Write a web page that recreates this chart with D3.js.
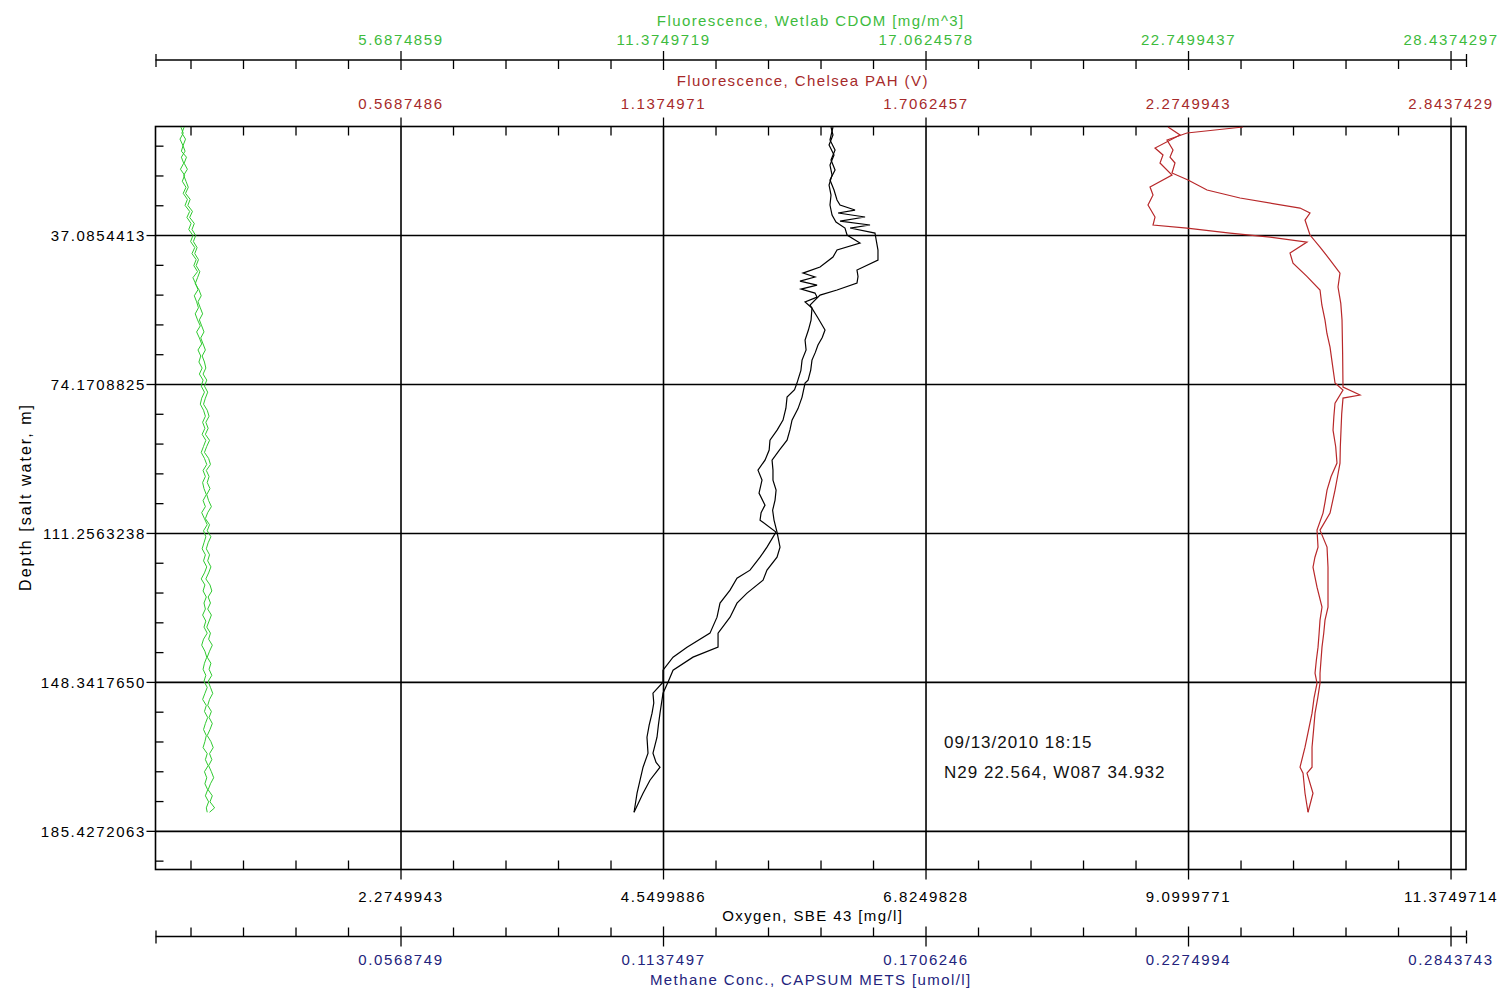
<!DOCTYPE html>
<html>
<head>
<meta charset="utf-8">
<script src="https://cdn.jsdelivr.net/npm/d3@7"></script>
<style>
  html, body { margin: 0; padding: 0; background: #fff; }
  svg { display: block; }
</style>
</head>
<body>
<svg id="chart" width="1501" height="989"></svg>
<script>
// ---------------- DATA ----------------
// Axis ranges (each horizontal axis shares the same pixel span)
const oxygenRange  = [0.1517, 11.509];     // Oxygen, SBE 43 [mg/l]
const pahRange     = [0.0379, 2.8773];     // Fluorescence, Chelsea PAH (V)
const cdomRange    = [0.3793, 28.7725];    // Fluorescence, Wetlab CDOM [mg/m^3]
const methaneRange = [0.00379, 0.28773];   // Methane Conc., CAPSUM METS [umol/l]
const depthRange   = [10.06, 195.05];      // Depth [salt water, m]

// Tick labels
const oxygenTickLabels  = ["2.2749943", "4.5499886", "6.8249828", "9.0999771", "11.3749714"];
const pahTickLabels     = ["0.5687486", "1.1374971", "1.7062457", "2.2749943", "2.8437429"];
const cdomTickLabels    = ["5.6874859", "11.3749719", "17.0624578", "22.7499437", "28.4374297"];
const methaneTickLabels = ["0.0568749", "0.1137497", "0.1706246", "0.2274994", "0.2843743"];
const depthTickLabels   = ["37.0854413", "74.1708825", "111.2563238", "148.3417650", "185.4272063"];

// Oxygen profile: [depth m, oxygen mg/l] for the two casts
const oxygenCastA = [[10.19,6.006],[12.18,6.023],[14.67,5.989],[17.16,6.032],[19.65,5.997],[22.14,6.015],[24.63,5.989],[27.12,6.006],[29.61,5.997],[32.10,6.015],[33.85,6.049],[35.34,6.127],[37.08,6.145],[39.08,6.257],[40.82,6.058],[42.56,6.023],[45.05,5.911],[46.55,5.763],[47.54,5.867],[48.54,5.737],[49.54,5.885],[50.53,5.746],[51.53,5.867],[52.53,5.885],[53.77,5.781],[55.27,5.841],[58.25,5.833],[60.74,5.810],[63.23,5.781],[65.70,5.790],[68.22,5.755],[70.80,5.745],[73.94,5.711],[75.60,5.690],[77.43,5.625],[80.20,5.615],[83.16,5.590],[85.60,5.540],[88.14,5.477],[90.60,5.470],[93.12,5.434],[95.61,5.373],[98.10,5.408],[101.34,5.382],[104.33,5.434],[106.20,5.400],[108.06,5.391],[111.05,5.529],[114.79,5.451],[117.28,5.391],[120.52,5.304],[122.51,5.191],[125.50,5.131],[128.73,5.044],[132.22,5.018],[136.20,4.957],[139.69,4.758],[142.18,4.637],[145.42,4.550],[148.41,4.550],[151.15,4.463],[153.60,4.470],[156.13,4.455],[159.10,4.430],[162.11,4.411],[166.09,4.420],[169.58,4.377],[172.82,4.351],[176.06,4.325],[180.79,4.299]];
const oxygenCastB = [[10.19,6.023],[13.42,5.997],[15.91,6.041],[18.40,6.006],[20.90,6.041],[23.39,5.997],[25.88,6.032],[28.37,6.058],[29.61,6.084],[30.86,6.214],[31.60,6.067],[32.60,6.301],[33.60,6.084],[34.59,6.344],[35.34,6.171],[36.59,6.387],[38.70,6.400],[40.82,6.413],[43.31,6.413],[45.80,6.231],[47.40,6.240],[49.04,6.231],[50.78,6.058],[52.03,5.911],[54.52,5.824],[57.75,5.893],[60.74,5.954],[62.60,5.930],[64.48,5.893],[66.30,5.870],[68.22,5.841],[70.70,5.830],[73.20,5.807],[73.94,5.781],[77.43,5.755],[80.30,5.720],[83.16,5.668],[85.60,5.650],[88.14,5.625],[90.60,5.560],[93.12,5.495],[95.61,5.503],[98.10,5.503],[100.60,5.530],[103.08,5.521],[105.60,5.500],[108.06,5.512],[111.05,5.538],[114.79,5.564],[117.28,5.538],[120.52,5.451],[123.01,5.417],[126.24,5.278],[128.73,5.191],[132.22,5.131],[136.20,5.027],[139.69,5.027],[142.18,4.810],[145.42,4.637],[148.41,4.593],[151.15,4.550],[156.13,4.524],[159.10,4.510],[162.11,4.498],[166.09,4.463],[168.40,4.490],[169.58,4.524],[172.82,4.437],[176.06,4.377],[180.79,4.299]];

// PAH fluorescence: [depth m, volts]
const pahCastA = [[10.19,2.2317],[12.18,2.2577],[15.42,2.2035],[17.16,2.2208],[19.15,2.2143],[22.14,2.2403],[25.13,2.1927],[27.12,2.1992],[29.61,2.1883],[32.60,2.2035],[34.59,2.1992],[35.34,2.2728],[36.59,2.3660],[37.58,2.4527],[38.83,2.5328],[41.57,2.4960],[44.06,2.5025],[47.30,2.5320],[50.78,2.5610],[54.50,2.5650],[58.25,2.5718],[61.60,2.5760],[64.98,2.5827],[69.40,2.5880],[73.94,2.5935],[75.69,2.6108],[78.92,2.5935],[82.30,2.5910],[85.65,2.5892],[89.80,2.5950],[93.87,2.5978],[97.20,2.5850],[100.59,2.5762],[103.50,2.5720],[106.32,2.5675],[110.55,2.5545],[114.79,2.5567],[117.30,2.5500],[119.77,2.5458],[122.20,2.5500],[124.75,2.5545],[129.73,2.5653],[132.97,2.5610],[136.30,2.5590],[139.69,2.5567],[143.00,2.5530],[146.17,2.5502],[148.66,2.5545],[152.40,2.5480],[156.13,2.5437],[160.40,2.5360],[164.60,2.5285],[169.58,2.5177],[171.07,2.5242],[176.06,2.5285],[180.79,2.5350]];
const pahCastB = [[10.19,2.3942],[11.68,2.2728],[13.42,2.2295],[15.91,2.2425],[17.66,2.2360],[19.15,2.2468],[21.64,2.2403],[23.39,2.2750],[25.88,2.3162],[27.87,2.3877],[30.36,2.5177],[31.60,2.5393],[33.35,2.5285],[37.08,2.5393],[40.07,2.5610],[43.30,2.5830],[46.55,2.6043],[50.03,2.6000],[54.10,2.6060],[58.25,2.6087],[66.60,2.6100],[74.94,2.6108],[76.93,2.6477],[77.68,2.6108],[81.60,2.6080],[85.65,2.6065],[89.80,2.6050],[93.87,2.6043],[97.20,2.5990],[100.59,2.5935],[106.32,2.5827],[110.55,2.5610],[114.79,2.5762],[119.77,2.5783],[124.75,2.5783],[129.73,2.5783],[132.97,2.5718],[136.30,2.5690],[139.69,2.5653],[146.17,2.5610],[148.66,2.5610],[152.40,2.5560],[156.13,2.5502],[160.40,2.5470],[164.60,2.5437],[169.58,2.5437],[171.07,2.5328],[176.06,2.5458],[180.79,2.5350]];

// CDOM fluorescence: shared depth samples, two casts [mg/m^3]
const cdomDepth = [10.2,11.7,13.2,14.7,16.2,17.7,19.2,20.7,22.2,23.7,
  25.2,26.7,28.2,29.7,31.2,32.7,34.2,35.7,37.2,38.7,
  40.2,41.7,43.2,44.7,46.2,47.7,49.2,50.7,52.2,53.7,
  55.2,56.7,58.2,59.7,61.2,62.7,64.2,65.7,67.2,68.7,
  70.2,71.7,73.2,74.7,76.2,77.7,79.2,80.7,82.2,83.7,
  85.2,86.7,88.2,89.7,91.2,92.7,94.2,95.7,97.2,98.7,
  100.2,101.7,103.2,104.7,106.2,107.7,109.2,110.7,112.2,113.7,
  115.2,116.7,118.2,119.7,121.2,122.7,124.2,125.7,127.2,128.7,
  130.2,131.7,133.2,134.7,136.2,137.7,139.2,140.7,142.2,143.7,
  145.2,146.7,148.2,149.7,151.2,152.7,154.2,155.7,157.2,158.7,
  160.2,161.7,163.2,164.7,166.2,167.7,169.2,170.7,172.2,173.7,
  175.2,176.7,178.2,179.7,180.8];
const cdomCastA = [0.93,0.98,0.91,0.97,1.02,0.94,0.99,0.92,1.01,0.96,
  1.04,0.98,1.07,1.02,1.12,1.06,1.15,1.10,1.19,1.14,
  1.23,1.17,1.26,1.21,1.29,1.19,1.25,1.30,1.22,1.27,
  1.31,1.24,1.29,1.35,1.27,1.33,1.38,1.30,1.36,1.32,
  1.39,1.33,1.41,1.37,1.44,1.38,1.35,1.42,1.46,1.40,
  1.45,1.39,1.47,1.42,1.37,1.44,1.49,1.41,1.46,1.40,
  1.43,1.48,1.41,1.46,1.38,1.44,1.50,1.42,1.47,1.43,
  1.39,1.46,1.42,1.49,1.44,1.37,1.45,1.41,1.48,1.43,
  1.46,1.40,1.47,1.43,1.50,1.42,1.38,1.45,1.49,1.44,
  1.41,1.47,1.43,1.50,1.45,1.40,1.48,1.44,1.51,1.46,
  1.42,1.48,1.45,1.41,1.50,1.46,1.52,1.44,1.49,1.45,
  1.51,1.46,1.53,1.48,1.50];
const cdomCastB = [1.00,0.95,1.03,0.98,0.94,1.05,1.00,1.07,0.99,1.04,
  1.09,1.03,1.13,1.08,1.18,1.12,1.22,1.17,1.25,1.20,
  1.28,1.23,1.31,1.26,1.34,1.29,1.24,1.32,1.37,1.30,
  1.35,1.40,1.33,1.38,1.43,1.36,1.41,1.46,1.39,1.44,
  1.47,1.41,1.49,1.44,1.51,1.46,1.42,1.50,1.54,1.47,
  1.52,1.46,1.55,1.49,1.44,1.53,1.57,1.48,1.54,1.50,
  1.56,1.49,1.53,1.59,1.51,1.46,1.55,1.50,1.58,1.52,
  1.48,1.55,1.51,1.58,1.53,1.47,1.56,1.60,1.52,1.57,
  1.51,1.59,1.54,1.49,1.57,1.53,1.61,1.55,1.50,1.58,
  1.54,1.60,1.52,1.57,1.62,1.55,1.51,1.59,1.54,1.61,
  1.56,1.50,1.58,1.63,1.55,1.60,1.53,1.59,1.64,1.57,
  1.52,1.61,1.56,1.66,1.55];

const annotationLines = ["09/13/2010 18:15", "N29 22.564, W087 34.932"];

// ---------------- LAYOUT ----------------
const plot = { left: 155.5, right: 1466, top: 126.5, bottom: 869.5 };
const FONT = '"Liberation Sans", Arial, Helvetica, sans-serif';
const colors = { cdom: "#3dbb3d", cdomLine: "#2fc92f", pah: "#a62a2a", pahLine: "#b8282a", oxy: "#000", methane: "#23237c" };

const svg = d3.select("#chart");
svg.append("rect").attr("width", 1501).attr("height", 989).attr("fill", "#fff");

const xOxy  = d3.scaleLinear().domain(oxygenRange).range([plot.left, plot.right]);
const xPah  = d3.scaleLinear().domain(pahRange).range([plot.left, plot.right]);
const xCdom = d3.scaleLinear().domain(cdomRange).range([plot.left, plot.right]);
const xMeth = d3.scaleLinear().domain(methaneRange).range([plot.left, plot.right]);
const yDepth = d3.scaleLinear().domain(depthRange).range([plot.top, plot.bottom]);

const num = arr => arr.map(Number);
function minorValues(majors, domain) {
  const step = majors[0] / 5;
  return d3.range(Math.ceil(domain[0] / step - 1e-9), Math.floor(domain[1] / step + 1e-9) + 1)
    .filter(k => k % 5 !== 0).map(k => k * step);
}

function styleAxis(g, color, sw) {
  g.select(".domain").remove();
  g.attr("font-family", FONT).attr("font-size", 15);
  g.selectAll(".tick line").attr("stroke", color || "#000").attr("stroke-width", sw || 1.3);
}
function tickAxis(axisFn, scale, values, size, tx, ty, color) {
  const g = svg.append("g").attr("transform", `translate(${tx},${ty})`);
  g.call(axisFn(scale).tickValues(values).tickSizeInner(size).tickSizeOuter(0).tickFormat(""));
  styleAxis(g, color);
  return g;
}
function labelAxis(axisFn, scale, labels, pad, tx, ty, color) {
  const g = svg.append("g").attr("transform", `translate(${tx},${ty})`);
  g.call(axisFn(scale).tickValues(num(labels)).tickSize(0).tickPadding(pad).tickFormat((d, i) => labels[i]));
  styleAxis(g);
  g.selectAll(".tick line").remove();
  g.selectAll(".tick text").attr("fill", color).style("letter-spacing", "1.6px");
  return g;
}

// ---- gridlines ----
const oxyMajors = num(oxygenTickLabels);
const depthMajors = num(depthTickLabels);
const gx = svg.append("g").attr("transform", `translate(0,${plot.bottom})`);
gx.call(d3.axisBottom(xOxy).tickValues(oxyMajors).tickSize(-(plot.bottom - plot.top)).tickFormat(""));
styleAxis(gx, "#000", 1.6);
const gy = svg.append("g").attr("transform", `translate(${plot.left},0)`);
gy.call(d3.axisLeft(yDepth).tickValues(depthMajors).tickSize(-(plot.right - plot.left)).tickFormat(""));
styleAxis(gy, "#000", 1.6);

// ---- frame ----
svg.append("rect").attr("x", plot.left).attr("y", plot.top)
  .attr("width", plot.right - plot.left).attr("height", plot.bottom - plot.top)
  .attr("fill", "none").attr("stroke", "#000").attr("stroke-width", 1.6);

// ---- plot-frame ticks ----
tickAxis(d3.axisTop, xPah, num(pahTickLabels), 9, 0, plot.top);
tickAxis(d3.axisBottom, xPah, minorValues(num(pahTickLabels), pahRange), 9, 0, plot.top);
tickAxis(d3.axisBottom, xOxy, oxyMajors, 10, 0, plot.bottom);
tickAxis(d3.axisTop, xOxy, minorValues(oxyMajors, oxygenRange), 9, 0, plot.bottom);
tickAxis(d3.axisLeft, yDepth, depthMajors, 9, plot.left, 0);
tickAxis(d3.axisRight, yDepth, minorValues(depthMajors, depthRange), 8, plot.left, 0);

// ---- detached CDOM axis (top) ----
const cdomY = 60;
svg.append("line").attr("x1", plot.left).attr("x2", plot.right).attr("y1", cdomY).attr("y2", cdomY)
  .attr("stroke", "#000").attr("stroke-width", 1.5);
tickAxis(d3.axisTop, xCdom, num(cdomTickLabels), 9, 0, cdomY);
tickAxis(d3.axisBottom, xCdom, num(cdomTickLabels), 10, 0, cdomY);
tickAxis(d3.axisBottom, xCdom, minorValues(num(cdomTickLabels), cdomRange), 9, 0, cdomY);
tickAxis(d3.axisTop, xCdom, cdomRange, 6, 0, cdomY);
tickAxis(d3.axisBottom, xCdom, cdomRange, 7, 0, cdomY);

// ---- detached Methane axis (bottom) ----
const methY = 936.5;
svg.append("line").attr("x1", plot.left).attr("x2", plot.right).attr("y1", methY).attr("y2", methY)
  .attr("stroke", "#000").attr("stroke-width", 1.5);
tickAxis(d3.axisTop, xMeth, num(methaneTickLabels), 10, 0, methY);
tickAxis(d3.axisBottom, xMeth, num(methaneTickLabels), 10, 0, methY);
tickAxis(d3.axisTop, xMeth, minorValues(num(methaneTickLabels), methaneRange), 9, 0, methY);
tickAxis(d3.axisTop, xMeth, methaneRange, 6, 0, methY);
tickAxis(d3.axisBottom, xMeth, methaneRange, 7, 0, methY);

// ---- tick labels ----
labelAxis(d3.axisTop, xCdom, cdomTickLabels, 15.5, 0, cdomY, colors.cdom);
labelAxis(d3.axisTop, xPah, pahTickLabels, 18, 0, plot.top, colors.pah);
labelAxis(d3.axisBottom, xOxy, oxygenTickLabels, 21.5, 0, plot.bottom, colors.oxy);
labelAxis(d3.axisBottom, xMeth, methaneTickLabels, 17.5, 0, methY, colors.methane);
const dl = labelAxis(d3.axisLeft, yDepth, depthTickLabels, 9.5, plot.left, 0, "#000");
dl.selectAll(".tick text").attr("dy", "0.36em");

// ---- axis titles ----
const midX = (plot.left + plot.right) / 2;
function title(txt, x, y, color, size, ls, rotate) {
  const t = svg.append("text").text(txt)
    .attr("font-family", FONT).attr("font-size", size).attr("fill", color)
    .attr("text-anchor", "middle").style("letter-spacing", ls + "px");
  if (rotate) t.attr("transform", `translate(${x},${y}) rotate(-90)`);
  else t.attr("x", x).attr("y", y);
  return t;
}
title("Fluorescence, Wetlab CDOM [mg/m^3]", midX, 26, colors.cdom, 15, 1.4);
title("Fluorescence, Chelsea PAH (V)", midX - 8, 86, colors.pah, 15, 1.4);
title("Oxygen, SBE 43 [mg/l]", midX + 2, 920.5, colors.oxy, 15, 1.4);
title("Methane Conc., CAPSUM METS [umol/l]", midX, 985, colors.methane, 15, 1.4);
title("Depth [salt water, m]", 31, 497, "#000", 16, 2.0, true);

// ---- data lines ----
svg.append("clipPath").attr("id", "plotclip").append("rect")
  .attr("x", plot.left).attr("y", plot.top).attr("width", plot.right - plot.left).attr("height", plot.bottom - plot.top);
const lines = svg.append("g").attr("clip-path", "url(#plotclip)");

const lineOxy = d3.line().x(d => xOxy(d[1])).y(d => yDepth(d[0]));
const linePah = d3.line().x(d => xPah(d[1])).y(d => yDepth(d[0]));
const lineCdom = d3.line().x(d => xCdom(d[1])).y(d => yDepth(d[0]));

[cdomCastA, cdomCastB].forEach(vals => {
  lines.append("path").datum(cdomDepth.map((d, i) => [d, vals[i]]))
    .attr("d", lineCdom).attr("fill", "none").attr("stroke", colors.cdomLine).attr("stroke-width", 1);
});
[oxygenCastA, oxygenCastB].forEach(data => {
  lines.append("path").datum(data).attr("d", lineOxy)
    .attr("fill", "none").attr("stroke", "#000").attr("stroke-width", 1.2);
});
[pahCastA, pahCastB].forEach(data => {
  lines.append("path").datum(data).attr("d", linePah)
    .attr("fill", "none").attr("stroke", colors.pahLine).attr("stroke-width", 1.2);
});

// ---- annotation ----
annotationLines.forEach((t, i) => {
  svg.append("text").text(t).attr("x", 944).attr("y", 748 + i * 30)
    .attr("font-family", FONT).attr("font-size", 17).attr("fill", "#111")
    .style("letter-spacing", "1px");
});
</script>
</body>
</html>
